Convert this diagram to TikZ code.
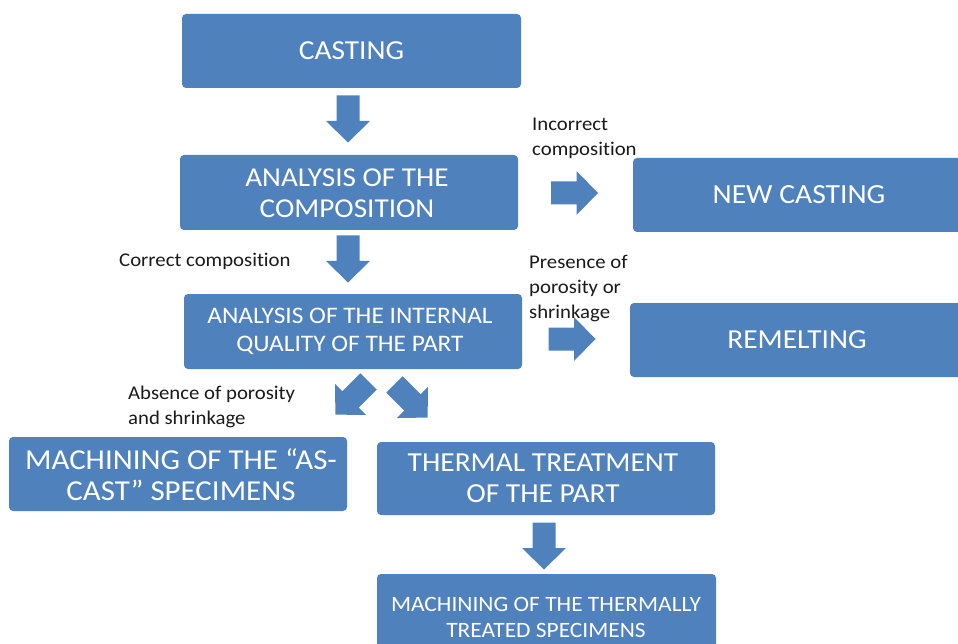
\documentclass[tikz,border=0pt]{standalone}
\usepackage{fontspec}
\setmainfont[FakeStretch=1.07, Ligatures={TeX,NoCommon}]{Carlito}
\definecolor{boxblue}{HTML}{4F81BD}
\definecolor{labelgray}{HTML}{1A1A1A}
\tikzset{
  box/.style={fill=boxblue, rounded corners=4pt, text=white, align=center, inner sep=0pt},
  lbl/.style={text=labelgray, align=left, anchor=north west, inner sep=0pt, font=\fontsize{19.4}{25}\selectfont},
  barrow/.pic={\fill[boxblue] (-23.5,-11.5) -- (2,-11.5) -- (2,-22) -- (23.5,0) -- (2,22) -- (2,11.5) -- (-23.5,11.5) -- cycle;}
}
\begin{document}
\begin{tikzpicture}[x=1pt,y=-1pt]
\useasboundingbox (0,0) rectangle (958,644);
\clip (0,0) rectangle (958,644);
% boxes
\path[box] (182,14) rectangle (521,88);
\node[box, font=\fontsize{27.5}{31}\selectfont] (cast) at (351.5,51) {CASTING};
\path[box] (180,155) rectangle (518,230);
\node[box, font=\fontsize{27.3}{31}\selectfont] (comp) at (347,193.5) {ANALYSIS OF THE\\COMPOSITION};
\path[box] (633,158) rectangle (975,232);
\node[box, font=\fontsize{27.7}{31}\selectfont] (newc) at (799,195) {NEW CASTING};
\path[box] (184,294) rectangle (522,369);
\node[box, font=\fontsize{23.7}{28}\selectfont] (qual) at (350,331.5) {ANALYSIS OF THE INTERNAL\\QUALITY OF THE PART};
\path[box] (630,303) rectangle (975,377);
\node[box, font=\fontsize{27.5}{31}\selectfont] (rem) at (797,340) {REMELTING};
\path[box] (9,437) rectangle (347,511);
\node[box, font=\fontsize{28.9}{31}\selectfont] (asc) at (181,475) {MACHINING OF THE “AS-\\CAST” SPECIMENS};
\path[box] (377,442) rectangle (715,515);
\node[box, font=\fontsize{27.5}{31}\selectfont] (ther) at (543,478.5) {THERMAL TREATMENT\\OF THE PART};
\path[box] (377,574) rectangle (716,660);
\node[box, font=\fontsize{21.9}{26}\selectfont] (tspec) at (546,617.5) {MACHINING OF THE THERMALLY\\TREATED SPECIMENS};
% block arrows
\pic[rotate=-90] at (348,119) {barrow};
\pic[rotate=-90] at (348,259) {barrow};
\pic at (574.5,193) {barrow};
\pic at (572,339) {barrow};
\pic[rotate=-135] at (352,398) {barrow};
\pic[rotate=-45] at (411,401) {barrow};
\pic[rotate=-90] at (544,546) {barrow};
% labels
\node[lbl] (l1) at (532,118) {Incorrect\\composition};
\node[lbl] (l2) at (119,253) {Correct composition};
\node[lbl] (l3) at (529,255) {Presence of\\porosity or\\shrinkage};
\node[lbl] (l4) at (128,386) {Absence of porosity\\and shrinkage};
\end{tikzpicture}
\end{document}
